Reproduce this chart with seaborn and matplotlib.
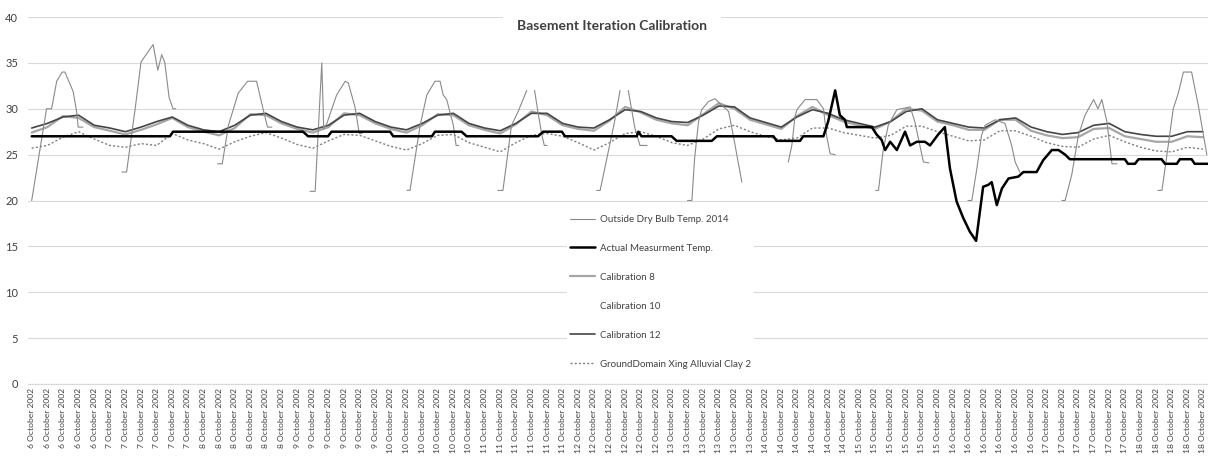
import numpy as np
import pandas as pd
import matplotlib
matplotlib.use("Agg")
import matplotlib.pyplot as plt
import seaborn as sns
from matplotlib.lines import Line2D

nan = np.nan

# x axis: hours since 6 October 2002 04:00, one tick label every 4 hours
tick_days = [6, 7, 8, 9, 10, 11, 12, 13, 14, 15, 16, 17, 18]
ticks_per_day = [5, 6, 6, 6, 6, 6, 6, 6, 6, 6, 6, 6, 5]
grid_hours = list(range(0, 301, 4))

outside_hours = [0, 3.8, 5.1, 6.4, 7.8, 8.5, 10.6, 11.5, 11.9, 13.1, nan,
                 23.1, 24.3, 26.5, 28.0, 31.1, 32.3, 33.3, 34.1, 35.2, 36.2, 36.9, nan,
                 47.6, 48.8, 50.4, 52.9, 55.3, 57.6, 59.3, 60.4, 61.5, nan,
                 71.3, 72.6, 74.3, 74.8, 75.6, 78.1, 80.3, 81.1, 82.8, 83.9, 84.6, nan,
                 96.1, 96.9, 99.5, 101.2, 103.3, 104.6, 105.4, 106.3, 108.0, 108.7, 109.4, nan,
                 119.4, 120.7, 122.9, 124.6, 126.8, nan, 128.8, 129.8, 130.7, 131.3, 132.0, nan,
                 144.7, 145.6, 149.3, 150.7, nan, 152.8, 154.5, 155.8, 157.6, nan,
                 168.0, 169.1, 169.8, 170.8, 171.6, 173.4, 175.0, 178.5, 179.7, 181.9, nan,
                 193.8, 194.7, 195.5, 196.0, 198.1, 201.1, 202.8, 203.6, 204.5, 205.8, nan,
                 216.2, 216.9, 218.1, 219.4, 221.6, 225.0, 226.2, 227.5, 228.4, 229.8, nan,
                 239.8, 240.8, 242.1, 243.3, 244.2, 246.8, 249.3, 251.0, 251.9, 253.1, nan,
                 263.9, 264.7, 266.4, 268.1, 269.8, 272.0, 273.1, 274.1, 275.4, 276.7, 278.0, nan,
                 288.5, 289.5, 290.3, 292.4, 293.7, 295.0, 297.1, 298.8, 301.0]
outside_temp = [20, 30, 30, 33, 34, 34, 31.9, 29.7, 28, 28, nan,
                23.1, 23.1, 30, 35.1, 37, 34.2, 35.9, 35, 31.2, 30, 30, nan,
                24, 24, 28.2, 31.7, 33, 33, 29.9, 28, 28, nan,
                21, 21, 35, 27.8, 28.4, 31.5, 33, 32.8, 30.2, 27.3, 27.3, nan,
                21.1, 21.1, 28.2, 31.5, 33, 33, 31.5, 31, 28.2, 26, 26, nan,
                21.1, 21.1, 28.2, 29.7, 32, nan, 32, 29.3, 27.1, 26, 26, nan,
                21.1, 21.1, 28.6, 32, nan, 32, 27.9, 26, 26, nan,
                20, 20, 24.6, 28.6, 29.9, 30.8, 31.1, 29.7, 27.1, 22, nan,
                24.2, 26, 29.1, 29.9, 31, 31, 30, 27.1, 25.1, 25, nan,
                21.1, 21.1, 25.5, 28.2, 29.9, 30.2, 28.6, 26, 24.2, 24.1, nan,
                20, 20, 23.5, 27.1, 28.2, 28.8, 28.4, 26, 24.2, 23.1, nan,
                20, 20, 22.8, 27.1, 29.3, 31, 30, 31, 28.6, 24, 24, nan,
                21.1, 21.1, 23.5, 30, 31.7, 34, 34, 30.4, 25]

actual_hours = [0, 35.4, 36.2, 69.5, 70.8, 75.9, 76.8, 91.8, 92.6, 102.5, 103.3, 110.1, 111.4,
                129.7, 131.0, 135.8, 136.6, 155.0, 155.4, 156.2, 163.9, 165.2, 174.2, 175.5,
                190.0, 190.8, 196.8, 197.6, 202.8, 204.0, 205.8, 207.0, 208.3, 208.8, 215.2,
                216.4, 217.7, 218.6, 219.9, 221.6, 223.7, 225.0, 226.7, 228.8, 230.1, 232.2,
                233.9, 235.2, 236.9, 238.6, 240.3, 241.9, 243.7, 245.0, 245.9, 247.2, 248.5,
                250.2, 252.7, 254.0, 257.4, 259.1, 261.3, 263.0, 264.7, 265.9, 280.0, 280.8,
                282.6, 283.5, 289.4, 290.3, 293.3, 294.1, 297.1, 297.9, 301.3]
actual_temp = [27.0, 27.0, 27.5, 27.5, 27.0, 27.0, 27.5, 27.5, 27.0, 27.0, 27.5, 27.5, 27.0,
               27.0, 27.5, 27.5, 27.0, 27.0, 27.5, 27.0, 27.0, 26.5, 26.5, 27.0,
               27.0, 26.5, 26.5, 27.0, 27.0, 28.6, 32.0, 29.3, 28.8, 28.0, 28.0,
               27.2, 26.6, 25.5, 26.4, 25.5, 27.5, 26.0, 26.4, 26.4, 26.0, 27.2,
               28.0, 23.5, 19.9, 18.1, 16.6, 15.6, 21.5, 21.7, 22.0, 19.5, 21.3,
               22.4, 22.6, 23.1, 23.1, 24.4, 25.5, 25.5, 25.0, 24.5, 24.5, 24.0,
               24.0, 24.5, 24.5, 24.0, 24.0, 24.5, 24.5, 24.0, 24.0]

# simulated series, one value every 4 hours
calibration_8 = [27.4, 28.0, 29.2, 29.0, 28.0, 27.6, 27.2, 27.7, 28.3, 29.0,
                 28.0, 27.5, 27.1, 27.9, 29.4, 29.3, 28.4, 27.8, 27.4, 28.0,
                 29.5, 29.3, 28.4, 27.8, 27.4, 28.2, 29.4, 29.3, 28.2, 27.7,
                 27.3, 28.3, 29.7, 29.3, 28.2, 27.8, 27.6, 28.7, 30.2, 29.6,
                 28.8, 28.4, 28.2, 29.4, 30.6, 30.0, 28.8, 28.3, 27.8, 29.2,
                 30.2, 29.3, 28.6, 28.2, 27.8, 28.6, 30.0, 29.8, 28.6, 28.2,
                 27.7, 27.7, 28.8, 28.8, 27.6, 27.1, 26.8, 26.9, 27.8, 27.9,
                 27.0, 26.7, 26.4, 26.4, 27.0, 26.9]
calibration_10 = [27.6, 28.2, 29.1, 29.1, 28.1, 27.7, 27.3, 27.8, 28.4, 29.0,
                  28.1, 27.6, 27.3, 28.0, 29.3, 29.4, 28.5, 27.9, 27.5, 28.1,
                  29.4, 29.4, 28.5, 27.9, 27.5, 28.3, 29.3, 29.4, 28.3, 27.8,
                  27.4, 28.3, 29.6, 29.4, 28.3, 27.9, 27.7, 28.7, 30.0, 29.6,
                  28.9, 28.5, 28.3, 29.3, 30.4, 30.1, 28.9, 28.4, 27.9, 29.1,
                  30.0, 29.4, 28.7, 28.3, 27.9, 28.6, 29.8, 29.9, 28.7, 28.3,
                  27.8, 27.8, 28.8, 28.9, 27.8, 27.3, 27.0, 27.1, 28.0, 28.1,
                  27.2, 26.9, 26.7, 26.7, 27.2, 27.2]
calibration_12 = [27.9, 28.4, 29.1, 29.3, 28.2, 27.9, 27.5, 28.0, 28.6, 29.1,
                  28.2, 27.7, 27.5, 28.2, 29.3, 29.5, 28.6, 28.0, 27.7, 28.2,
                  29.3, 29.5, 28.6, 28.0, 27.7, 28.4, 29.3, 29.5, 28.4, 27.9,
                  27.6, 28.4, 29.5, 29.5, 28.4, 28.0, 27.9, 28.8, 29.9, 29.7,
                  29.0, 28.6, 28.5, 29.3, 30.3, 30.2, 29.0, 28.5, 28.0, 29.1,
                  29.9, 29.5, 28.8, 28.4, 28.0, 28.6, 29.7, 30.0, 28.8, 28.4,
                  28.0, 27.9, 28.8, 29.0, 28.0, 27.5, 27.2, 27.4, 28.2, 28.4,
                  27.5, 27.2, 27.0, 27.0, 27.5, 27.5]
ground_clay = [25.7, 26.0, 26.9, 27.5, 26.7, 26.0, 25.8, 26.2, 26.0, 27.3,
               26.6, 26.2, 25.6, 26.4, 27.0, 27.4, 26.8, 26.1, 25.7, 26.5,
               27.2, 27.1, 26.5, 25.9, 25.5, 26.2, 27.1, 27.2, 26.3, 25.8,
               25.3, 26.3, 27.1, 27.3, 27.0, 26.3, 25.5, 26.3, 27.3, 27.5,
               27.0, 26.3, 26.0, 26.7, 27.8, 28.2, 27.5, 27.0, 26.6, 26.8,
               27.9, 27.9, 27.4, 27.1, 26.8, 27.1, 28.1, 28.1, 27.5, 27.0,
               26.5, 26.6, 27.6, 27.6, 27.0, 26.3, 25.9, 25.8, 26.7, 27.1,
               26.4, 25.8, 25.4, 25.3, 25.8, 25.6]

labels = ["Outside Dry Bulb Temp. 2014", "Actual Measurment Temp.", "Calibration 8",
          "Calibration 10", "Calibration 12", "GroundDomain Xing Alluvial Clay 2"]

tick_labels = [f"{d} October 2002" for d, n in zip(tick_days, ticks_per_day) for _ in range(n)]

sns.set_theme(style="white")
plt.rcParams['font.family'] = ['Lato', 'DejaVu Sans']

outside = pd.DataFrame({"hour": outside_hours, "temp": outside_temp})
outside["segment"] = np.cumsum(outside["hour"].isna())
outside = outside.dropna()
actual = pd.DataFrame({"hour": actual_hours, "temp": actual_temp})
sims = pd.DataFrame({"hour": grid_hours, "cal8": calibration_8, "cal10": calibration_10,
                     "cal12": calibration_12, "ground": ground_clay})

fig = plt.figure(figsize=(12.08, 4.57), dpi=100)
ax = fig.add_axes([28 / 1208, 1 - 384 / 457, 1180 / 1208, 367 / 457])

styles = {
    "outside": dict(color="#8a8a8a", lw=0.8, ls="-"),
    "actual": dict(color="black", lw=1.8, ls="-"),
    "cal8": dict(color="#a6a6a6", lw=1.6, ls="-"),
    "cal10": dict(color="white", lw=1.0, ls="-"),
    "cal12": dict(color="#454545", lw=1.2, ls="-"),
    "ground": dict(color="#7f7f7f", lw=1.0, ls=(0, (1.5, 1.5))),
}

sns.lineplot(data=sims, x="hour", y="cal10", ax=ax, **styles["cal10"])
sns.lineplot(data=sims, x="hour", y="ground", ax=ax, **styles["ground"])
sns.lineplot(data=sims, x="hour", y="cal8", ax=ax, **styles["cal8"])
sns.lineplot(data=sims, x="hour", y="cal12", ax=ax, **styles["cal12"])
sns.lineplot(data=outside, x="hour", y="temp", units="segment", estimator=None, ax=ax,
             **styles["outside"])
sns.lineplot(data=actual, x="hour", y="temp", ax=ax, **styles["actual"])

ax.set_xlim(-0.95, 301.3)
ax.set_ylim(0, 40)
ax.set_yticks(range(0, 41, 5))
ax.set_xticks(grid_hours)
ax.set_xticklabels(tick_labels, rotation=90, fontsize=6.1, color="#404040")
ax.tick_params(axis="x", length=0, pad=3)
ax.tick_params(axis="y", length=0, pad=7, labelsize=8, labelcolor="#404040")
ax.set_xlabel("")
ax.set_ylabel("")
ax.yaxis.grid(True, color="#d9d9d9", lw=0.8)
ax.xaxis.grid(False)
for s in ["top", "right", "left"]:
    ax.spines[s].set_visible(False)
ax.spines["bottom"].set_color("#d9d9d9")
ax.spines["bottom"].set_linewidth(0.8)

handles = [Line2D([], [], **styles[k]) for k in ["outside", "actual", "cal8", "cal10", "cal12", "ground"]]
leg = ax.legend(handles, labels, loc="upper left", bbox_to_anchor=(567 / 1208, 1 - 212 / 457),
                bbox_transform=fig.transFigure, frameon=True, facecolor="white", edgecolor="none",
                framealpha=1, fontsize=7, handlelength=2.6, handletextpad=0.5,
                labelspacing=2.05, borderpad=0.3, borderaxespad=0)
for t in leg.get_texts():
    t.set_color("#404040")

fig.text(612 / 1208, 1 - 26 / 457, "Basement Iteration Calibration", ha="center", va="center",
         fontsize=10, fontweight="bold", color="#404040",
         bbox=dict(boxstyle="square,pad=1.0", fc="white", ec="none"))

fig.savefig("out.png", dpi=100)
